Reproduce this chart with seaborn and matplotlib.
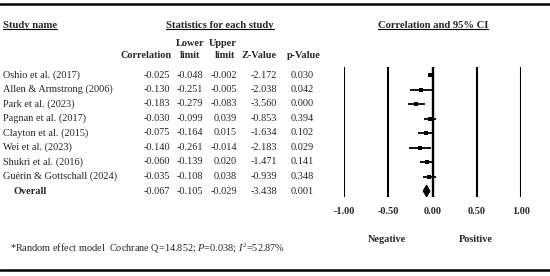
import numpy as np
import matplotlib.pyplot as plt
import seaborn as sns
import pandas as pd
from matplotlib.lines import Line2D

studies = ["Oshio et al. (2017)", "Allen & Armstrong (2006)", "Park et al. (2023)",
           "Pagnan et al. (2017)", "Clayton et al. (2015)", "Wei et al. (2023)",
           "Shukri et al. (2016)", "Guérin & Gottschall (2024)"]
corr = [-0.025, -0.130, -0.183, -0.030, -0.075, -0.140, -0.060, -0.035]
lower = [-0.048, -0.251, -0.279, -0.099, -0.164, -0.261, -0.139, -0.108]
upper = [-0.002, -0.005, -0.083, 0.039, 0.015, -0.014, 0.020, 0.038]
zval = [-2.172, -2.038, -3.560, -0.853, -1.634, -2.183, -1.471, -0.939]
pval = [0.030, 0.042, 0.000, 0.394, 0.102, 0.029, 0.141, 0.348]
overall = {"corr": -0.067, "lower": -0.105, "upper": -0.029, "z": -3.438, "p": 0.001}
ticks = [-1.0, -0.5, 0.0, 0.5, 1.0]

sns.set_style("white")
plt.rcParams['font.family'] = ['Liberation Serif', 'DejaVu Serif']
plt.rcParams['mathtext.fontset'] = 'custom'
plt.rcParams['mathtext.rm'] = 'Liberation Serif'
plt.rcParams['mathtext.it'] = 'Liberation Serif:italic'

W, H = 550, 276
fig = plt.figure(figsize=(5.5, 2.76), dpi=100)
FS = 7.4


def px(x, y):
    return x / W, 1 - y / H


def txt(x, y, s, ha="left", bold=False, size=FS):
    return fig.text(*px(x, y), s, ha=ha, va="center", fontsize=size,
                    fontweight="bold" if bold else "normal")


def underline(t):
    r = fig.canvas.get_renderer()
    bb = t.get_window_extent(r)
    y = bb.y0 + 0.5
    fig.add_artist(Line2D([bb.x0 / W, bb.x1 / W], [y / H, y / H], color="black",
                          lw=0.8, transform=fig.transFigure))


# rules
fig.add_artist(Line2D([0, 1], [1 - 4 / H] * 2, color="black", lw=1.8, transform=fig.transFigure))
fig.add_artist(Line2D([0, 1], [1 - 270 / H] * 2, color="black", lw=1.8, transform=fig.transFigure))

# headers
underline(txt(3, 25, "Study name", bold=True, size=7.7))
underline(txt(220, 25, "Statistics for each study", ha="center", bold=True, size=7.7))
underline(txt(433, 25, "Correlation and 95% CI", ha="center", bold=True, size=7.7))
txt(146, 56, "Correlation", ha="center", bold=True)
txt(190, 44, "Lower", ha="center", bold=True)
txt(190, 56, "limit", ha="center", bold=True)
txt(223, 44, "Upper", ha="center", bold=True)
txt(225, 56, "limit", ha="center", bold=True)
txt(259, 56, "Z-Value", ha="center", bold=True)
txt(304, 56, "p-Value", ha="center", bold=True)

# table rows
row_y = [75 + 14.5 * i for i in range(len(studies) + 1)]
for i, name in enumerate(studies):
    y = row_y[i]
    txt(3, y, name)
    txt(170, y, f"{corr[i]:.3f}", ha="right")
    txt(203, y, f"{lower[i]:.3f}", ha="right")
    txt(237, y, f"{upper[i]:.3f}", ha="right")
    txt(277, y, f"{zval[i]:.3f}", ha="right")
    txt(314, y, f"{pval[i]:.3f}", ha="right")
y = row_y[-1]
txt(13, y, "Overall", bold=True)
txt(170, y, f"{overall['corr']:.3f}", ha="right")
txt(203, y, f"{overall['lower']:.3f}", ha="right")
txt(237, y, f"{overall['upper']:.3f}", ha="right")
txt(277, y, f"{overall['z']:.3f}", ha="right")
txt(314, y, f"{overall['p']:.3f}", ha="right")

txt(10, 248, r"*Random effect model  Cochrane Q=14.852; $\mathit{P}$=0.038; $\mathit{I}^{2}$=52.87%")

# forest plot axes: x -1..1 -> 344..521 px, y top 67 bottom 197
x0, x1 = 344, 521
ytop, ybot = 67, 197
ax = fig.add_axes([x0 / W, 1 - ybot / H, (x1 - x0) / W, (ybot - ytop) / H])
ax.set_xlim(-1, 1)
ax.set_ylim(8 + (ybot - row_y[-1]) / 14.5, -(row_y[0] - ytop) / 14.5)
for s in ax.spines.values():
    s.set_visible(False)
ax.set_yticks([])
for t in ticks:
    ax.axvline(t, color="black", lw=1.5 if t != 0 else 1.7)

df = pd.DataFrame({"study": studies, "corr": corr, "lower": lower, "upper": upper,
                   "row": np.arange(len(studies))})
ax.hlines(df["row"], df["lower"], df["upper"], color="black", lw=1.3)
sns.scatterplot(data=df, x="corr", y="row", marker="s", s=8, color="black",
                linewidth=0, ax=ax, legend=False)
ov_row = len(studies)
ax.fill([overall["lower"], overall["corr"], overall["upper"], overall["corr"]],
        [ov_row, ov_row - 0.4, ov_row, ov_row + 0.4], color="black", lw=0.8, ec="black")
ax.set_xlabel("")
ax.set_ylabel("")
ax.set_xticks(ticks)
ax.set_xticklabels([f"{t:.2f}" for t in ticks], fontsize=FS, fontweight="bold")
ax.tick_params(axis="x", length=0, pad=7)

txt(387, 239, "Negative", ha="center", bold=True)
txt(476, 239, "Positive", ha="center", bold=True)

fig.savefig("out.png", dpi=100)
